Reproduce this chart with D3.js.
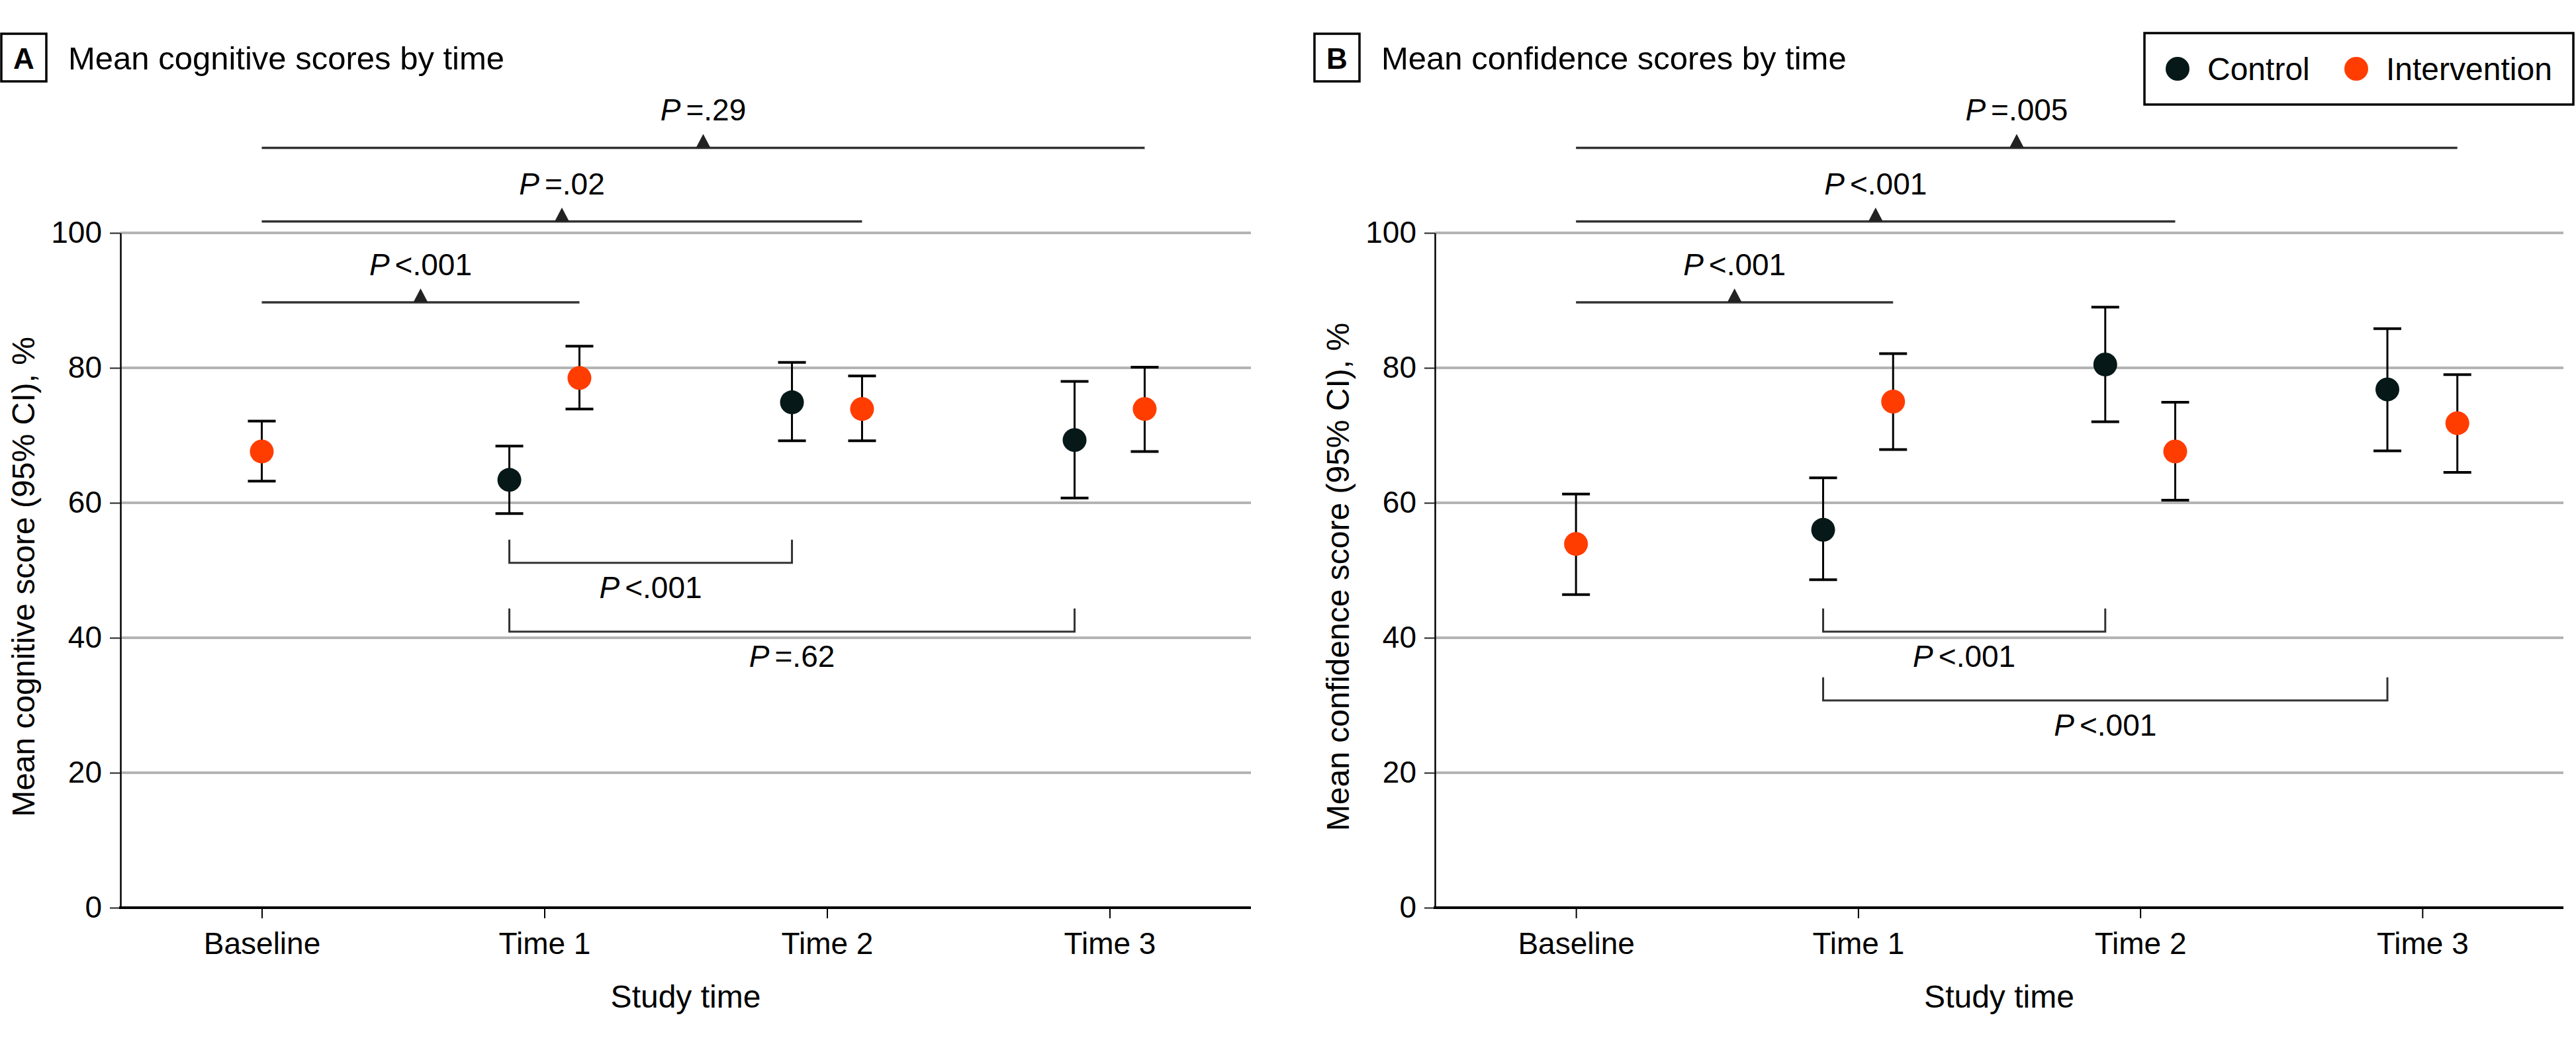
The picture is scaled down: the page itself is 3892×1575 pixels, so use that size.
<!DOCTYPE html>
<html>
<head>
<meta charset="utf-8">
<script src="https://cdn.jsdelivr.net/npm/d3@7/dist/d3.min.js"></script>
<style>
  html, body { margin: 0; padding: 0; background: #ffffff; }
  svg text { font-family: "Liberation Sans", Arial, sans-serif; fill: #000; }
</style>
</head>
<body>
<svg id="chart" width="3892" height="1575"></svg>
<script>
// ---------------- DATA ----------------
const categories = ["Baseline", "Time 1", "Time 2", "Time 3"];
const seriesNames = ["Control", "Intervention"];
const yTicks = [0, 20, 40, 60, 80, 100];

// Panel A: mean cognitive scores (%), 95% CI
const cogControlMean = [null, 63.4, 74.9, 69.3];
const cogControlLow  = [null, 58.4, 69.2, 60.7];
const cogControlHigh = [null, 68.4, 80.8, 78.0];
const cogInterventionMean = [67.6, 78.5, 73.9, 73.9];
const cogInterventionLow  = [63.2, 73.9, 69.2, 67.6];
const cogInterventionHigh = [72.1, 83.2, 78.8, 80.1];

// Panel B: mean confidence scores (%), 95% CI
const confControlMean = [null, 56.0, 80.5, 76.8];
const confControlLow  = [null, 48.6, 72.0, 67.7];
const confControlHigh = [null, 63.7, 89.0, 85.8];
const confInterventionMean = [53.9, 75.0, 67.6, 71.8];
const confInterventionLow  = [46.4, 67.9, 60.4, 64.5];
const confInterventionHigh = [61.3, 82.1, 74.9, 79.0];

// Comparisons (intervention vs baseline, above; control time 1 vs later, below)
const cogTopComparisons = [
  { from: "Baseline", to: "Time 1", op: "<", p: ".001" },
  { from: "Baseline", to: "Time 2", op: "=", p: ".02" },
  { from: "Baseline", to: "Time 3", op: "=", p: ".29" }
];
const cogBottomComparisons = [
  { from: "Time 1", to: "Time 2", op: "<", p: ".001" },
  { from: "Time 1", to: "Time 3", op: "=", p: ".62" }
];
const confTopComparisons = [
  { from: "Baseline", to: "Time 1", op: "<", p: ".001" },
  { from: "Baseline", to: "Time 2", op: "<", p: ".001" },
  { from: "Baseline", to: "Time 3", op: "=", p: ".005" }
];
const confBottomComparisons = [
  { from: "Time 1", to: "Time 2", op: "<", p: ".001" },
  { from: "Time 1", to: "Time 3", op: "<", p: ".001" }
];

// ---------------- STYLE / LAYOUT ----------------
const colors = { Control: "#061818", Intervention: "#ff3d00" };
const FONT_TICK = 46, FONT_TITLE = 49, FONT_LABEL = 48, FONT_P = 46;
const plotTop = 352, plotBottom = 1372;
const topLevels = [89.7, 101.7, 112.6];      // y (in score units) of upper comparison lines

const svg = d3.select("#chart");

function pLabel(g, x, y, c) {
  const t = g.append("text").attr("x", x).attr("y", y)
    .attr("text-anchor", "middle").style("font-size", FONT_P + "px");
  t.append("tspan").style("font-style", "italic").text("P");
  t.append("tspan").attr("dx", 8).text(c.op + c.p);
}

function drawPanel(cfg) {
  const g = svg.append("g");
  const x = d3.scalePoint().domain(categories).range([cfg.x0, cfg.x1]).padding(0.5);
  const y = d3.scaleLinear().domain([0, 100]).range([plotBottom, plotTop]);
  const off = x.step() * 0.124;

  const ctrl = categories.map((c, i) => ({ cat: c, s: "Control", m: cfg.cm[i], lo: cfg.cl[i], hi: cfg.ch[i] }))
    .filter(d => d.m != null);
  const intv = categories.map((c, i) => ({ cat: c, s: "Intervention", m: cfg.im[i], lo: cfg.il[i], hi: cfg.ih[i],
    single: cfg.cm[i] == null }));
  const px = d => x(d.cat) + (d.s === "Control" ? -off : (d.single ? 0 : off));

  // gridlines
  g.selectAll(".grid").data(yTicks.filter(v => v > 0)).join("line")
    .attr("x1", cfg.x0).attr("x2", cfg.x1)
    .attr("y1", d => y(d)).attr("y2", d => y(d))
    .attr("stroke", "#b4b4b4").attr("stroke-width", 4);

  // y axis
  const ya = g.append("g").attr("transform", `translate(${cfg.x0},0)`)
    .call(d3.axisLeft(y).tickValues(yTicks).tickSize(16).tickSizeOuter(0).tickPadding(12));
  ya.select(".domain").attr("stroke", "#000").attr("stroke-width", 2.5);
  ya.selectAll(".tick line").attr("stroke", "#222").attr("stroke-width", 2);
  ya.selectAll(".tick text").style("font-size", FONT_TICK + "px").attr("fill", "#000");

  // x axis
  const xa = g.append("g").attr("transform", `translate(0,${plotBottom})`)
    .call(d3.axisBottom(x).tickSize(16).tickSizeOuter(0).tickPadding(21));
  xa.select(".domain").remove();
  xa.selectAll(".tick line").attr("stroke", "#000").attr("stroke-width", 2);
  xa.selectAll(".tick text").style("font-size", FONT_TICK + "px").attr("fill", "#000");
  g.append("line").attr("x1", cfg.x0 - 2).attr("x2", cfg.x1)
    .attr("y1", y(0)).attr("y2", y(0)).attr("stroke", "#000").attr("stroke-width", 4);

  // axis titles
  g.append("text").attr("x", (cfg.x0 + cfg.x1) / 2).attr("y", 1523)
    .attr("text-anchor", "middle").style("font-size", FONT_LABEL + "px").text("Study time");
  g.append("text")
    .attr("transform", `translate(${cfg.x0 - 130},${(plotTop + plotBottom) / 2 + 10}) rotate(-90)`)
    .attr("text-anchor", "middle").style("font-size", FONT_LABEL + "px").text(cfg.ylabel);

  // panel letter + title
  g.append("rect").attr("x", cfg.boxX).attr("y", 51).attr("width", 68).attr("height", 72)
    .attr("fill", "#fff").attr("stroke", "#000").attr("stroke-width", 3.5);
  g.append("text").attr("x", cfg.boxX + 34).attr("y", 104).attr("text-anchor", "middle")
    .style("font-size", "44px").style("font-weight", "bold").text(cfg.letter);
  g.append("text").attr("x", cfg.boxX + 101).attr("y", 105)
    .style("font-size", FONT_TITLE + "px").text(cfg.title);

  // upper comparison lines
  const intvX = c => x(c) + (cfg.cm[categories.indexOf(c)] == null ? 0 : off);
  const ctrlX = c => x(c) - off;
  cfg.top.forEach((c, i) => {
    const xa0 = intvX(c.from), xa1 = intvX(c.to), yy = y(topLevels[i]);
    g.append("line").attr("x1", xa0).attr("x2", xa1).attr("y1", yy).attr("y2", yy)
      .attr("stroke", "#333").attr("stroke-width", 3.5);
    const xm = (xa0 + xa1) / 2;
    g.append("path").attr("d", `M${xm - 11},${yy} L${xm},${yy - 21} L${xm + 11},${yy} Z`).attr("fill", "#222");
    pLabel(g, xm, yy - 41, c);
  });

  // lower comparison brackets
  cfg.bottom.forEach((c, i) => {
    const xb0 = ctrlX(c.from), xb1 = ctrlX(c.to), yy = y(cfg.bottomLevels[i]);
    g.append("path").attr("d", `M${xb0},${yy - 35} L${xb0},${yy} L${xb1},${yy} L${xb1},${yy - 35}`)
      .attr("fill", "none").attr("stroke", "#333").attr("stroke-width", 3);
    pLabel(g, (xb0 + xb1) / 2, yy + 53, c);
  });

  // error bars + points
  const all = ctrl.concat(intv);
  const eb = g.selectAll(".eb").data(all).join("g");
  eb.append("line").attr("x1", px).attr("x2", px).attr("y1", d => y(d.lo)).attr("y2", d => y(d.hi))
    .attr("stroke", "#000").attr("stroke-width", 3);
  eb.append("line").attr("x1", d => px(d) - 21).attr("x2", d => px(d) + 21)
    .attr("y1", d => y(d.hi)).attr("y2", d => y(d.hi)).attr("stroke", "#000").attr("stroke-width", 4);
  eb.append("line").attr("x1", d => px(d) - 21).attr("x2", d => px(d) + 21)
    .attr("y1", d => y(d.lo)).attr("y2", d => y(d.lo)).attr("stroke", "#000").attr("stroke-width", 4);
  eb.append("circle").attr("cx", px).attr("cy", d => y(d.m)).attr("r", 18)
    .attr("fill", d => colors[d.s]);
}

drawPanel({
  x0: 182, x1: 1890, boxX: 2, letter: "A", title: "Mean cognitive scores by time",
  ylabel: "Mean cognitive score (95% CI), %",
  cm: cogControlMean, cl: cogControlLow, ch: cogControlHigh,
  im: cogInterventionMean, il: cogInterventionLow, ih: cogInterventionHigh,
  top: cogTopComparisons, bottom: cogBottomComparisons, bottomLevels: [51.1, 40.9]
});
drawPanel({
  x0: 2168, x1: 3873, boxX: 1986, letter: "B", title: "Mean confidence scores by time",
  ylabel: "Mean confidence score (95% CI), %",
  cm: confControlMean, cl: confControlLow, ch: confControlHigh,
  im: confInterventionMean, il: confInterventionLow, ih: confInterventionHigh,
  top: confTopComparisons, bottom: confBottomComparisons, bottomLevels: [40.9, 30.7]
});

// legend
const lg = svg.append("g");
lg.append("rect").attr("x", 3240).attr("y", 50).attr("width", 648).attr("height", 108)
  .attr("fill", "#fff").attr("stroke", "#000").attr("stroke-width", 3.5);
const legendX = d3.scaleOrdinal().domain(seriesNames).range([3290, 3560]);
seriesNames.forEach(s => {
  lg.append("circle").attr("cx", legendX(s)).attr("cy", 104).attr("r", 18).attr("fill", colors[s]);
  lg.append("text").attr("x", legendX(s) + 45).attr("y", 121).style("font-size", "48px").text(s);
});
</script>
</body>
</html>
